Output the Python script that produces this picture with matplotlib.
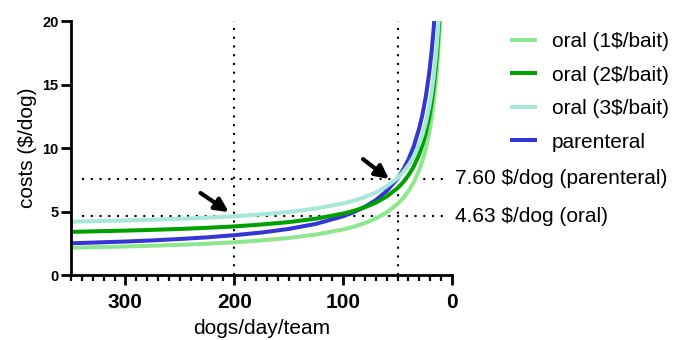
import matplotlib.pyplot as plt
import numpy as np

plt.rcParams['font.family'] = ['Liberation Sans', 'DejaVu Sans']

# dogs/day/team (x) and costs in $/dog
dogs = [350, 325, 300, 275, 250, 225, 200, 175, 150, 125, 100, 90, 80, 70,
        60, 50, 45, 40, 35, 30, 27, 24, 21, 19, 17, 15, 14, 13, 12, 11, 10]
oral_1 = [2.15, 2.20, 2.25, 2.31, 2.38, 2.47, 2.58, 2.73, 2.92, 3.19, 3.59,
          3.81, 4.09, 4.45, 4.93, 5.59, 6.04, 6.60, 7.31, 8.27, 9.01, 9.94,
          11.14, 12.14, 13.39, 14.96, 15.92, 17.02, 18.31, 19.83, 21.6]
oral_2 = [3.40, 3.45, 3.50, 3.56, 3.63, 3.72, 3.83, 3.98, 4.17, 4.44, 4.84,
          5.06, 5.34, 5.70, 6.18, 6.84, 7.29, 7.85, 8.56, 9.52, 10.26, 11.19,
          12.39, 13.39, 14.64, 16.21, 17.17, 18.27, 19.56, 21.1, 22.9]
oral_3 = [4.20, 4.25, 4.30, 4.36, 4.43, 4.52, 4.63, 4.78, 4.97, 5.24, 5.64,
          5.86, 6.14, 6.50, 6.98, 7.64, 8.09, 8.65, 9.36, 10.32, 11.06, 11.99,
          13.19, 14.19, 15.44, 17.01, 17.97, 19.07, 20.36, 21.9, 23.7]
parenteral = [2.50, 2.57, 2.64, 2.73, 2.84, 2.97, 3.14, 3.35, 3.63, 4.03,
              4.63, 4.96, 5.37, 5.90, 6.61, 7.60, 8.26, 9.09, 10.15, 11.57,
              12.67, 14.05, 15.82, 17.31, 19.15, 21.48, 22.9, 24.5, 26.4, 28.7, 31.4]

series = [
    ("oral (1$/bait)", oral_1, "#8ee68e"),
    ("oral (2$/bait)", oral_2, "#00a000"),
    ("oral (3$/bait)", oral_3, "#a6e8d8"),
    ("parenteral", parenteral, "#3535d6"),
]

ref_dogs = [200, 50]
ref_costs = [7.60, 4.63]
ref_labels = ["7.60 \\$/dog (parenteral)", "4.63 \\$/dog (oral)"]

fig = plt.figure(figsize=(6.73, 3.40), dpi=100)
ax = fig.add_axes([0.1055, 0.191, 0.566, 0.747])

# draw order: parenteral under the oral lines at the right end
for name, vals, col in [series[3], series[0], series[1], series[2]]:
    ax.plot(dogs, vals, color=col, lw=2.9, label=name, solid_capstyle='butt')

dot = (0, (1, 3.2))
for d in ref_dogs:
    ax.plot([d, d], [0, 20], color='black', lw=1.5, linestyle=dot, zorder=1)
for c, lab in zip(ref_costs, ref_labels):
    ax.plot([340, 5], [c, c], color='black', lw=1.5, linestyle=dot, zorder=1)
    ax.text(-3, c, lab, fontsize=15, va='center', ha='left')

# arrows
arrow = dict(arrowstyle='-|>,head_length=0.8,head_width=0.4',
             color='black', lw=3, shrinkA=0, shrinkB=0)
ax.annotate("", xy=(205, 4.96), xytext=(231, 6.46), arrowprops=arrow)
ax.annotate("", xy=(57.8, 7.56), xytext=(81.7, 9.13), arrowprops=arrow)

ax.set_xlim(350, 0)
ax.set_ylim(0, 20)
ax.set_xticks([300, 200, 100, 0])
ax.set_xticks(np.arange(350, -1, -10), minor=True)
ax.set_yticks([0, 5, 10, 15, 20])
for lab in ax.get_xticklabels() + ax.get_yticklabels():
    lab.set_fontweight('bold')
ax.tick_params(axis='x', which='major', length=7, width=2, labelsize=15, pad=6)
ax.tick_params(axis='x', which='minor', length=4.5, width=1.6)
ax.tick_params(axis='y', which='major', length=7, width=2, labelsize=10.5, pad=2)
ax.spines['top'].set_visible(False)
ax.spines['right'].set_visible(False)
ax.spines['left'].set_linewidth(2)
ax.spines['bottom'].set_linewidth(2)
ax.set_xlabel("dogs/day/team", fontsize=15, labelpad=5)
ax.set_ylabel("costs (\\$/dog)", fontsize=15, labelpad=4)

handles, labels = ax.get_legend_handles_labels()
order = [1, 2, 3, 0]
fig.legend([handles[i] for i in order], [labels[i] for i in order],
           loc='upper left', bbox_to_anchor=(0.758, 0.906), frameon=False,
           fontsize=15, handlelength=1.3, handletextpad=0.7, labelspacing=0.7,
           borderpad=0, borderaxespad=0)

fig.savefig("out.png", dpi=100)
